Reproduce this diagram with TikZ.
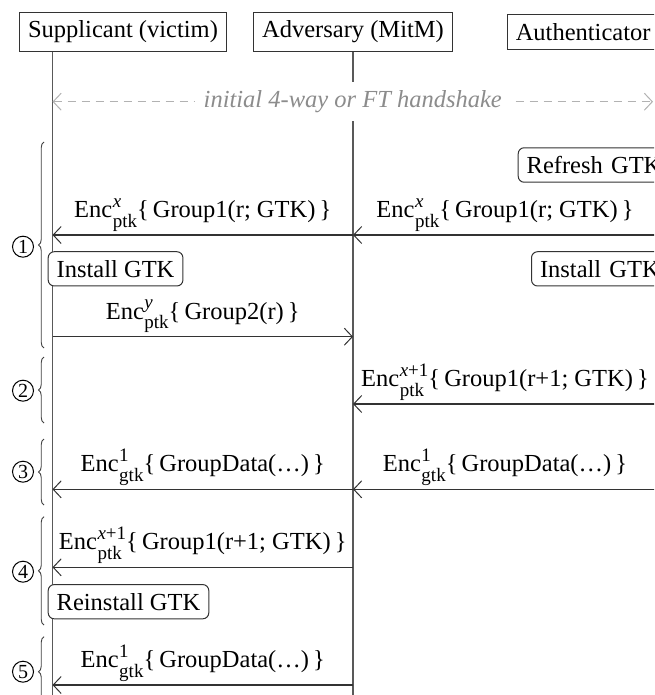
\documentclass[tikz,border=0pt]{standalone}
\usepackage{fontspec}
\setmainfont{Liberation Serif}
\usetikzlibrary{arrows.meta,decorations.pathreplacing}

% text sizes
\newcommand{\mainsz}{\fontsize{24.5}{29}\selectfont}
\newcommand{\scrsz}{\fontsize{19}{19}\selectfont}
% Enc with a key index above and a key name below
\newcommand{\enc}[2]{Enc\kern0.5pt\ooalign{\raisebox{10.5pt}{\scrsz #1}\cr\raisebox{-9.5pt}{\scrsz #2}\cr}}

\begin{document}
\begin{tikzpicture}[x=1pt,y=-1pt,
  every node/.style={font=\mainsz, text=black},
  actor/.style={draw=black!80, line width=1.1pt, inner sep=8.5pt, fill=white},
  action/.style={draw=black!80, line width=1pt, rounded corners=6pt, inner sep=8.5pt, fill=white},
  life/.style={draw=black!65, line width=1.2pt},
  tipb/.tip={Straight Barb[length=8pt,width=17pt,line width=1pt]},
  msg/.style={draw=black!80, line width=1.2pt, -tipb},
  hs/.style={draw=black!30, line width=1.2pt, dash pattern=on 8pt off 6pt, tipb-tipb},
  lbl/.style={midway, anchor=base, yshift=17.5pt, inner sep=0pt},
  phase/.style={draw=black!75, line width=0.9pt, decorate, decoration={brace, amplitude=5.5pt}},
  num/.style={circle, draw=black, line width=1pt, inner sep=0pt, minimum size=21pt, font=\fontsize{20}{20}\selectfont}
]
\useasboundingbox (0,0) rectangle (654,695);
\clip (0,0) rectangle (654,695);

% participants
\node[actor, anchor=west] (sup) at (19,32) {Supplicant (victim)};
\node[actor] (adv) at (353,32) {Adversary (MitM)};
\node[actor, anchor=west, text width=150pt, align=left] (auth) at (506.7,32) {Authenticator};

% lifeline positions
\coordinate (S) at (52.5,0);
\coordinate (A) at (353,0);
\coordinate (T) at (657,0);

\draw[life] (S |- sup.south) -- (S |- 0,720);
\draw[life] (adv.south) -- (A |- 0,720);

% initial handshake
\coordinate (hsS) at (52.5,101.7);
\coordinate (hsT) at (653,101.7);
\draw[hs] (hsS) -- node[midway, fill=white, text=black!45, font=\mainsz\itshape, inner sep=8.5pt] {initial 4-way or FT handshake} (hsT);

% phase 1
\node[action, anchor=west, text width=140pt, align=left] (refresh) at (517.7,165) {Refresh GTK};
\coordinate (T1) at (T |- 0,235);
\coordinate (A1) at (A |- 0,235);
\coordinate (S1) at (S |- 0,235);
\draw[msg] (T1) -- node[lbl] {\enc{\itshape x}{ptk}\{\,Group1(r; GTK)\,\}} (A1);
\draw[msg] (A1) -- node[lbl] {\enc{\itshape x}{ptk}\{\,Group1(r; GTK)\,\}} (S1);
\node[action, anchor=west] (instS) at (47.7,268.85) {Install GTK};
\node[action, anchor=west, text width=130pt, align=left] (instA) at (531,268.85) {Install GTK};
\coordinate (S2) at (S |- 0,336.7);
\coordinate (A2) at (A |- 0,336.7);
\draw[msg] (S2) -- node[lbl] {\enc{\itshape y}{ptk}\{\,Group2(r)\,\}} (A2);

% phase 2
\coordinate (T3) at (T |- 0,404);
\coordinate (A3) at (A |- 0,404);
\draw[msg] (T3) -- node[lbl] {\enc{{\itshape x}+1}{ptk}\{\,Group1(r+1; GTK)\,\}} (A3);

% phase 3
\coordinate (T4) at (T |- 0,489.3);
\coordinate (A4) at (A |- 0,489.3);
\coordinate (S4) at (S |- 0,489.3);
\draw[msg] (T4) -- node[lbl] {\enc{1}{gtk}\{\,GroupData(\dots)\,\}} (A4);
\draw[msg] (A4) -- node[lbl] {\enc{1}{gtk}\{\,GroupData(\dots)\,\}} (S4);

% phase 4
\coordinate (A5) at (A |- 0,567.3);
\coordinate (S5) at (S |- 0,567.3);
\draw[msg] (A5) -- node[lbl] {\enc{{\itshape x}+1}{ptk}\{\,Group1(r+1; GTK)\,\}} (S5);
\node[action, anchor=west] (reinst) at (47.7,601.7) {Reinstall GTK};

% phase 5
\coordinate (A6) at (A |- 0,685);
\coordinate (S6) at (S |- 0,685);
\draw[msg] (A6) -- node[lbl] {\enc{1}{gtk}\{\,GroupData(\dots)\,\}} (S6);

% phase braces and numbers
\draw[phase] (44,348) -- (44,142);
\draw[phase] (44,423) -- (44,357);
\draw[phase] (44,505) -- (44,439);
\draw[phase] (44,625) -- (44,516.7);
\draw[phase] (44,706.7) -- (44,636.7);
\node[num] (p1) at (23,246.7) {1};
\node[num] (p2) at (23,390.7) {2};
\node[num] (p3) at (23,471.7) {3};
\node[num] (p4) at (23,571.7) {4};
\node[num] (p5) at (23,671.7) {5};
\end{tikzpicture}
\end{document}
